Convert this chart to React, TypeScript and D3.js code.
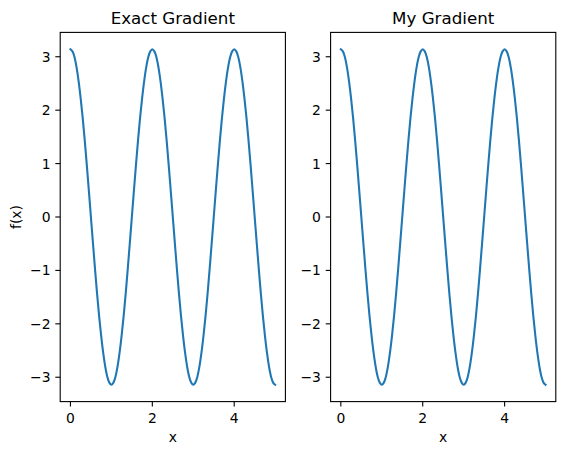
import React from "react";
import * as d3 from "d3";

const xValues = [
  0.0, 0.05, 0.1, 0.15, 0.2, 0.25, 0.3, 0.35, 0.4, 0.45,
  0.5, 0.55, 0.6, 0.65, 0.7, 0.75, 0.8, 0.85, 0.9, 0.95,
  1.0, 1.05, 1.1, 1.15, 1.2, 1.25, 1.3, 1.35, 1.4, 1.45,
  1.5, 1.55, 1.6, 1.65, 1.7, 1.75, 1.8, 1.85, 1.9, 1.95,
  2.0, 2.05, 2.1, 2.15, 2.2, 2.25, 2.3, 2.35, 2.4, 2.45,
  2.5, 2.55, 2.6, 2.65, 2.7, 2.75, 2.8, 2.85, 2.9, 2.95,
  3.0, 3.05, 3.1, 3.15, 3.2, 3.25, 3.3, 3.35, 3.4, 3.45,
  3.5, 3.55, 3.6, 3.65, 3.7, 3.75, 3.8, 3.85, 3.9, 3.95,
  4.0, 4.05, 4.1, 4.15, 4.2, 4.25, 4.3, 4.35, 4.4, 4.45,
  4.5, 4.55, 4.6, 4.65, 4.7, 4.75, 4.8, 4.85, 4.9, 4.95, 5.0,
];

const exactGradient = [
  3.14, 3.10, 2.99, 2.80, 2.54, 2.22, 1.85, 1.43, 0.97, 0.49,
  0.0, -0.49, -0.97, -1.43, -1.85, -2.22, -2.54, -2.80, -2.99, -3.10,
  -3.14, -3.10, -2.99, -2.80, -2.54, -2.22, -1.85, -1.43, -0.97, -0.49,
  0.0, 0.49, 0.97, 1.43, 1.85, 2.22, 2.54, 2.80, 2.99, 3.10,
  3.14, 3.10, 2.99, 2.80, 2.54, 2.22, 1.85, 1.43, 0.97, 0.49,
  0.0, -0.49, -0.97, -1.43, -1.85, -2.22, -2.54, -2.80, -2.99, -3.10,
  -3.14, -3.10, -2.99, -2.80, -2.54, -2.22, -1.85, -1.43, -0.97, -0.49,
  0.0, 0.49, 0.97, 1.43, 1.85, 2.22, 2.54, 2.80, 2.99, 3.10,
  3.14, 3.10, 2.99, 2.80, 2.54, 2.22, 1.85, 1.43, 0.97, 0.49,
  0.0, -0.49, -0.97, -1.43, -1.85, -2.22, -2.54, -2.80, -2.99, -3.10, -3.14,
];

const myGradient = [
  3.14, 3.10, 2.99, 2.80, 2.54, 2.22, 1.85, 1.43, 0.97, 0.49,
  0.0, -0.49, -0.97, -1.43, -1.85, -2.22, -2.54, -2.80, -2.99, -3.10,
  -3.14, -3.10, -2.99, -2.80, -2.54, -2.22, -1.85, -1.43, -0.97, -0.49,
  0.0, 0.49, 0.97, 1.43, 1.85, 2.22, 2.54, 2.80, 2.99, 3.10,
  3.14, 3.10, 2.99, 2.80, 2.54, 2.22, 1.85, 1.43, 0.97, 0.49,
  0.0, -0.49, -0.97, -1.43, -1.85, -2.22, -2.54, -2.80, -2.99, -3.10,
  -3.14, -3.10, -2.99, -2.80, -2.54, -2.22, -1.85, -1.43, -0.97, -0.49,
  0.0, 0.49, 0.97, 1.43, 1.85, 2.22, 2.54, 2.80, 2.99, 3.10,
  3.14, 3.10, 2.99, 2.80, 2.54, 2.22, 1.85, 1.43, 0.97, 0.49,
  0.0, -0.49, -0.97, -1.43, -1.85, -2.22, -2.54, -2.80, -2.99, -3.10, -3.14,
];

const xTicks = [0, 2, 4];
const yTicks = [-3, -2, -1, 0, 1, 2, 3];
const titles = ["Exact Gradient", "My Gradient"];

const W = 565;
const H = 455;
const top = 32.4;
const bottom = 401.6;
const panels = [
  { left: 60.2, right: 285.4 },
  { left: 330.6, right: 555.8 },
];
const FONT = "DejaVu Sans, sans-serif";

function Panel({ idx, ys }: { idx: number; ys: number[] }) {
  const { left, right } = panels[idx];
  const x = d3.scaleLinear().domain([-0.25, 5.25]).range([left, right]);
  const y = d3.scaleLinear().domain([-3.456, 3.456]).range([bottom, top]);
  const pts: [number, number][] = xValues.map((v, i) => [v, ys[i]]);
  const line = d3
    .line<[number, number]>()
    .x((d) => x(d[0]))
    .y((d) => y(d[1]))
    .curve(d3.curveCatmullRom.alpha(0.5));
  return (
    <g>
      <path d={line(pts) || ""} fill="none" stroke="#1f77b4" strokeWidth={2.08} strokeLinejoin="round" strokeLinecap="square" />
      <rect x={left} y={top} width={right - left} height={bottom - top} fill="none" stroke="#000" strokeWidth={1.1} />
      {xTicks.map((t) => (
        <g key={"x" + t}>
          <line x1={x(t)} x2={x(t)} y1={bottom} y2={bottom + 4.9} stroke="#000" strokeWidth={1.1} />
          <text x={x(t)} y={bottom + 21} textAnchor="middle" fontSize={13.9} fontFamily={FONT} fill="#000">
            {t < 0 ? "\u2212" + Math.abs(t) : String(t)}
          </text>
        </g>
      ))}
      {yTicks.map((t) => (
        <g key={"y" + t}>
          <line x1={left} x2={left - 4.9} y1={y(t)} y2={y(t)} stroke="#000" strokeWidth={1.1} />
          <text x={left - 9.7} y={y(t) + 5} textAnchor="end" fontSize={13.9} fontFamily={FONT} fill="#000">
            {t < 0 ? "\u2212" + Math.abs(t) : String(t)}
          </text>
        </g>
      ))}
      <text x={(left + right) / 2} y={24} textAnchor="middle" fontSize={16.7} fontFamily={FONT} fill="#000">
        {titles[idx]}
      </text>
      <text x={(left + right) / 2} y={442} textAnchor="middle" fontSize={13.9} fontFamily={FONT} fill="#000">
        x
      </text>
    </g>
  );
}

export default function App() {
  return (
    <svg width={W} height={H} style={{ position: "absolute", left: 0, top: 0, background: "#fff" }}>
      <rect x={0} y={0} width={W} height={H} fill="#fff" />
      <Panel idx={0} ys={exactGradient} />
      <Panel idx={1} ys={myGradient} />
      <text
        transform={`translate(21, ${(top + bottom) / 2}) rotate(-90)`}
        textAnchor="middle"
        fontSize={13.9}
        fontFamily={FONT}
        fill="#000"
      >
        f(x)
      </text>
    </svg>
  );
}
